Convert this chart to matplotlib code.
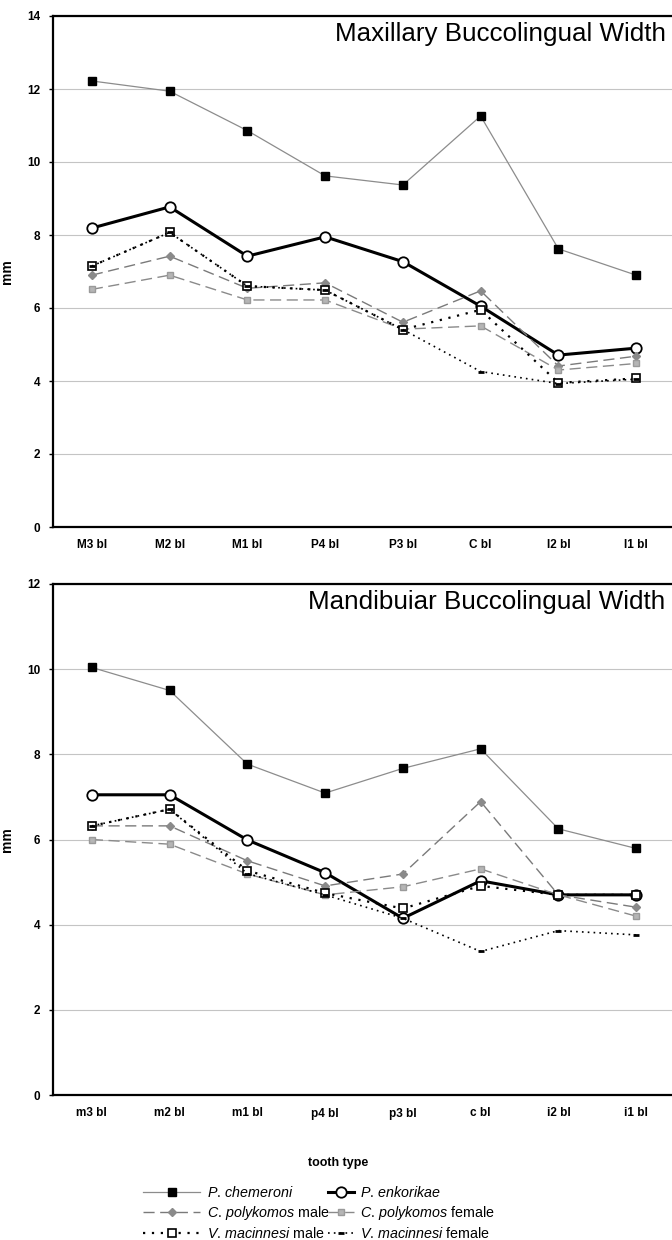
import numpy as np
import matplotlib
matplotlib.use("Agg")
import matplotlib.pyplot as plt

plt.rcParams['font.family'] = ['Liberation Sans', 'DejaVu Sans']
plt.rcParams['mathtext.fontset'] = 'custom'
plt.rcParams['mathtext.it'] = 'Liberation Sans:italic'
plt.rcParams['mathtext.rm'] = 'Liberation Sans'

# tooth categories
max_teeth = ['M3 bl', 'M2 bl', 'M1 bl', 'P4 bl', 'P3 bl', 'C bl', 'I2 bl', 'I1 bl']
man_teeth = ['m3 bl', 'm2 bl', 'm1 bl', 'p4 bl', 'p3 bl', 'c bl', 'i2 bl', 'i1 bl']

# maxillary buccolingual width [mm]
max_chemeroni = [12.22, 11.94, 10.86, 9.62, 9.37, 11.26, 7.62, 6.90]
max_enkorikae = [8.19, 8.77, 7.42, 7.95, 7.27, 6.05, 4.71, 4.90]
max_cpoly_m = [6.90, 7.42, 6.54, 6.69, 5.61, 6.47, 4.41, 4.68]
max_cpoly_f = [6.51, 6.90, 6.22, 6.22, 5.42, 5.51, 4.30, 4.48]
max_vmac_m = [7.15, 8.07, 6.60, 6.49, 5.41, 5.95, 3.95, 4.07]
max_vmac_f = [7.15, 8.07, 6.60, 6.49, 5.41, 4.26, 3.93, 4.05]

# mandibular buccolingual width [mm]
man_chemeroni = [10.04, 9.50, 7.77, 7.09, 7.67, 8.13, 6.25, 5.79]
man_enkorikae = [7.05, 7.05, 5.99, 5.22, 4.15, 5.03, 4.70, 4.70]
man_cpoly_m = [6.32, 6.32, 5.50, 4.91, 5.19, 6.89, 4.70, 4.41]
man_cpoly_f = [6.00, 5.89, 5.19, 4.70, 4.89, 5.31, 4.70, 4.20]
man_vmac_m = [6.32, 6.71, 5.27, 4.74, 4.38, 4.91, 4.70, 4.70]
man_vmac_f = [6.32, 6.71, 5.20, 4.70, 4.15, 3.37, 3.86, 3.76]

labels = [r'$\mathit{P.\,chemeroni}$',
          r'$\mathit{P.\,enkorikae}$',
          r'$\mathit{C.\,polykomos}$ male',
          r'$\mathit{C.\,polykomos}$ female',
          r'$\mathit{V.\,macinnesi}$ male',
          r'$\mathit{V.\,macinnesi}$ female']

styles = [
    dict(color='#8c8c8c', lw=0.9, ls='-', marker='s', ms=5.5, mfc='black', mec='black'),
    dict(color='black', lw=2.2, ls='-', marker='o', ms=7.5, mfc='white', mec='black', mew=1.3),
    dict(color='#7a7a7a', lw=1.0, ls=(0, (8, 4)), marker='D', ms=4, mfc='#8a8a8a', mec='#8a8a8a'),
    dict(color='#8a8a8a', lw=1.0, ls=(0, (8, 4)), marker='s', ms=5, mfc='#b5b5b5', mec='#9a9a9a'),
    dict(color='black', lw=1.6, ls=(0, (1, 3)), marker='s', ms=5.5, mfc='white', mec='black', mew=1.2),
    dict(color='black', lw=1.2, ls=(0, (1, 2.5)), marker='_', ms=5, mec='black', mew=2),
]

fig = plt.figure(figsize=(6.72, 12.4), dpi=100)
ax1 = fig.add_axes([53/672, 1-527/1240, 622/672, 511/1240])
ax2 = fig.add_axes([53/672, 1-1095/1240, 622/672, 511/1240])


def draw(ax, teeth, series, ymax, title):
    x = np.arange(len(teeth))
    lines = []
    for s, st, lab in zip(series, styles, labels):
        ln, = ax.plot(x, s, label=lab, **st)
        lines.append(ln)
    ax.set_xlim(-0.5, len(teeth) - 0.5)
    ax.set_ylim(0, ymax)
    ax.set_yticks(np.arange(0, ymax + 1, 2))
    ax.set_xticks(x)
    ax.set_xticklabels(teeth, fontsize=8.5, fontweight='bold')
    for t in ax.get_yticklabels():
        t.set_fontsize(8.5)
        t.set_fontweight('bold')
    ax.yaxis.grid(True, color='#c4c4c4', lw=0.8)
    ax.set_axisbelow(True)
    ax.spines['right'].set_visible(False)
    for sp in ['left', 'bottom', 'top']:
        ax.spines[sp].set_linewidth(1.6)
    ax.tick_params(axis='y', length=3, width=1, pad=6)
    ax.tick_params(axis='x', length=0, pad=9)
    ax.set_ylabel('mm', fontsize=10, fontweight='bold')
    ax.yaxis.set_label_coords(-39/622, 0.5)
    ax.text(0.985, 0.988, title, transform=ax.transAxes, ha='right', va='top', fontsize=18.7)
    return lines


draw(ax1, max_teeth,
     [max_chemeroni, max_enkorikae, max_cpoly_m, max_cpoly_f, max_vmac_m, max_vmac_f],
     14, 'Maxillary Buccolingual Width')
handles = draw(ax2, man_teeth,
               [man_chemeroni, man_enkorikae, man_cpoly_m, man_cpoly_f, man_vmac_m, man_vmac_f],
               12, 'Mandibuiar Buccolingual Width')

fig.text(338/672, 1-1163/1240, 'tooth type', ha='center', va='center',
         fontsize=9, fontweight='bold')

# two legend columns, the right one with shorter handles
leg_kw = dict(loc='upper left', frameon=False, fontsize=10.3, numpoints=1,
              handletextpad=0.45, labelspacing=0.28, borderpad=0, borderaxespad=0)
left = [0, 2, 4]
right = [1, 3, 5]
fig.legend([handles[i] for i in left], [labels[i] for i in left],
           bbox_to_anchor=(143/672, 1-1185/1240), handlelength=4.0, **leg_kw)
fig.legend([handles[i] for i in right], [labels[i] for i in right],
           bbox_to_anchor=(328/672, 1-1185/1240), handlelength=1.8, **leg_kw)

fig.savefig('out.png', dpi=100)
